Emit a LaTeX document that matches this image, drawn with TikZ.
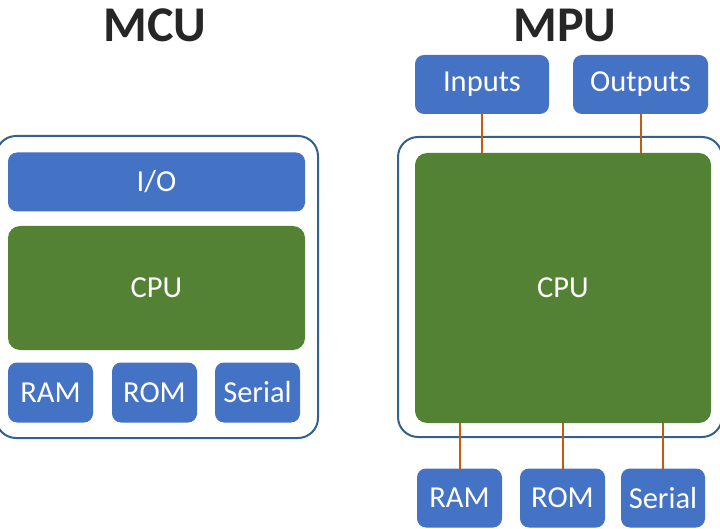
\documentclass[tikz,border=0pt]{standalone}
\usepackage{fontspec}
\setmainfont{Carlito}
\definecolor{boxblue}{HTML}{4472C4}
\definecolor{cpugreen}{HTML}{548235}
\definecolor{frameblue}{HTML}{31628F}
\definecolor{wire}{HTML}{C55A11}
\begin{document}
\begin{tikzpicture}[x=1pt,y=-1pt,
  blk/.style={fill=boxblue, draw=none, rounded corners=9pt, text=white, inner sep=0pt, outer sep=0pt,
    font=\fontsize{30.5}{34}\selectfont},
  cpubox/.style={blk, fill=cpugreen, rounded corners=12pt},
  frame/.style={draw=frameblue, line width=2pt, rounded corners=20pt, fill=white, inner sep=0pt, outer sep=0pt},
  title/.style={font=\fontsize{50}{54}\selectfont\bfseries, text=black!85, inner sep=0pt},
  link/.style={draw=wire, line width=2pt}]
\useasboundingbox (0,0) rectangle (720,529);
% MCU
\node[title] (mcut) at (155,25) {MCU};
\node[frame, minimum width=322pt, minimum height=302pt] (mcu) at (157,287) {};
\node[blk, minimum width=297pt, minimum height=59pt] (io) at (156.5,182) {I/O};
\node[cpubox, minimum width=297pt, minimum height=124pt] (cpu1) at (156.5,288) {CPU};
\node[blk, minimum width=85pt, minimum height=60pt] (ram1) at (50.5,392.5) {RAM};
\node[blk, minimum width=85pt, minimum height=60pt] (rom1) at (154.5,392.5) {ROM};
\node[blk, minimum width=85pt, minimum height=60pt] (ser1) at (257.5,392.5) {Serial};
% MPU
\node[title] (mput) at (565,25) {MPU};
\node[frame, minimum width=324pt, minimum height=300pt] (mpu) at (560,287) {};
\node[cpubox, minimum width=296pt, minimum height=270pt] (cpu2) at (563,288) {CPU};
\node[blk, minimum width=134pt, minimum height=59pt] (inp) at (482,84.5) {Inputs};
\node[blk, minimum width=135pt, minimum height=59pt] (outp) at (640.5,84.5) {Outputs};
\node[blk, minimum width=85pt, minimum height=59pt] (ram2) at (459.5,498) {RAM};
\node[blk, minimum width=85pt, minimum height=59pt] (rom2) at (562.5,498) {ROM};
\node[blk, minimum width=84pt, minimum height=59pt] (ser2) at (663,498) {Serial};
\draw[link] (inp.south) -- (inp.south |- cpu2.north);
\draw[link] (outp.south) -- (outp.south |- cpu2.north);
\draw[link] (ram2.north) -- (ram2.north |- cpu2.south);
\draw[link] (rom2.north) -- (rom2.north |- cpu2.south);
\draw[link] (ser2.north) -- (ser2.north |- cpu2.south);
\end{tikzpicture}
\end{document}
